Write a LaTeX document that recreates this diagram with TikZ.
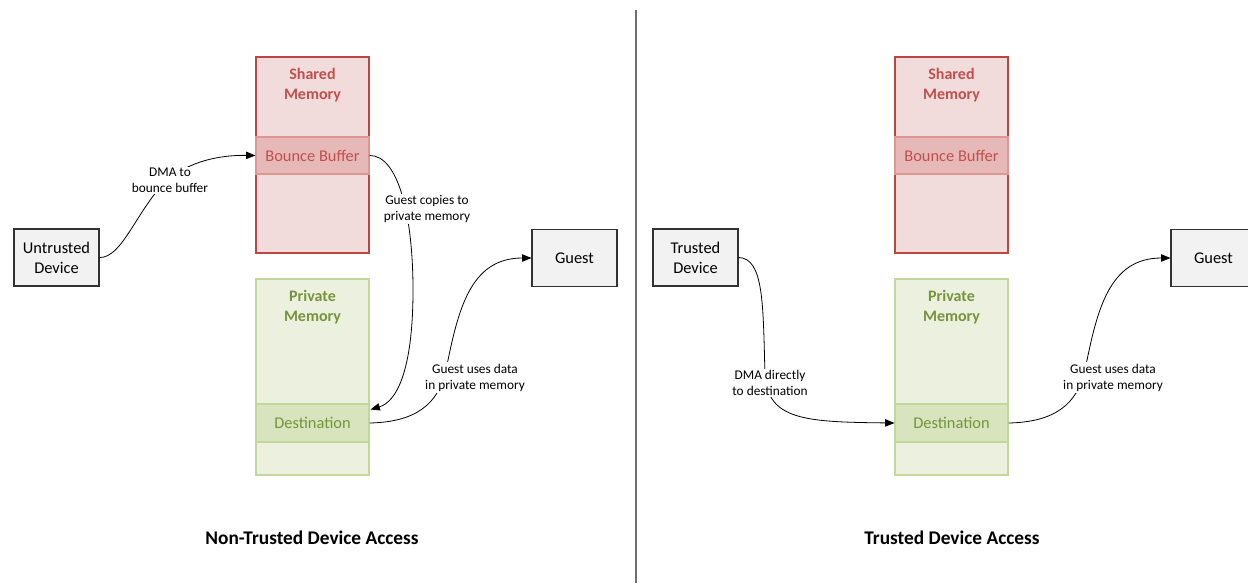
\documentclass[tikz,border=0pt]{standalone}
\usepackage{fontspec}
\setmainfont{Carlito}
\usetikzlibrary{arrows.meta,calc}

\definecolor{shFill}{RGB}{242,220,219}
\definecolor{shLine}{RGB}{185,72,68}
\definecolor{shBand}{RGB}{230,184,183}
\definecolor{shBandLine}{RGB}{222,150,148}
\definecolor{shText}{RGB}{192,80,77}
\definecolor{pvFill}{RGB}{235,241,222}
\definecolor{pvLine}{RGB}{195,214,155}
\definecolor{pvBand}{RGB}{215,228,189}
\definecolor{pvText}{RGB}{119,147,60}
\definecolor{devFill}{RGB}{242,242,242}
\definecolor{devLine}{RGB}{50,50,50}
\definecolor{divLine}{RGB}{110,110,110}

\tikzset{
  membox/.style={draw, line width=0.8pt, minimum width=84.75pt, minimum height=147pt, inner sep=0pt},
  shared/.style={membox, fill=shFill, draw=shLine},
  private/.style={membox, fill=pvFill, draw=pvLine},
  band/.style={minimum width=84.75pt, inner sep=0pt, line width=0.8pt, font=\fontsize{12.3}{14}\selectfont},
  sband/.style={band, minimum height=27.75pt, fill=shBand, draw=shBandLine, text=shText},
  pband/.style={band, minimum height=28.5pt, fill=pvBand, draw=pvLine, text=pvText},
  memtitle/.style={align=center, font=\bfseries\fontsize{12}{15}\selectfont},
  devbox/.style={draw=devLine, fill=devFill, line width=0.8pt, minimum width=63.75pt, minimum height=42.75pt,
    inner sep=0pt, align=center, font=\fontsize{12.3}{15}\selectfont},
  lbl/.style={fill=white, align=center, inner sep=1pt, font=\fontsize{10}{12}\selectfont},
  caption/.style={font=\bfseries\fontsize{14.5}{16}\selectfont},
  flow/.style={draw=black, line width=0.6pt, -{Triangle[length=7pt,width=5.5pt]}},
}

\begin{document}
\begin{tikzpicture}[x=0.75pt, y=-0.75pt]
\clip (0,0) rectangle (1248,583);
\fill[white] (0,0) rectangle (1248,583);

% separator between the two scenarios
\draw[divLine, line width=0.8pt] (636,10) -- (636,583);

% ---------- non-trusted device ----------
\node[shared]  (shL) at (312.5,155) {};
\node[sband]   (bbL) at (312.5,155.5) {Bounce Buffer};
\node[memtitle, text=shText] (shLt) at (312.5,85) {Shared\\Memory};
\node[private] (pvL) at (312.5,377) {};
\node[pband]   (dsL) at (312.5,423) {Destination};
\node[memtitle, text=pvText] (pvLt) at (312.5,307) {Private\\Memory};

\node[devbox] (dev) at (56.5,257.5) {Untrusted\\Device};
\node[devbox] (gL)  at (574.5,258) {Guest};

\draw[flow] (dev.east) .. controls (122,258) and (136,212) .. (165,182)
  .. controls (190,160) and (222,155) .. (bbL.west);
\draw[flow] (bbL.east) .. controls (398,155) and (413,215) .. (413,290)
  .. controls (413,372) and (396,402) .. ($(dsL.north east)+(1,6)$);
\draw[flow] (dsL.east) .. controls (415,422) and (438,405) .. (446,370)
  .. controls (458,310) and (470,258) .. (gL.west);

\node[lbl] (l1) at (170,180.5) {DMA to\\bounce buffer};
\node[lbl] (l2) at (427,209) {Guest copies to\\private memory};
\node[lbl] (l3) at (475,377.5) {Guest uses data\\in private memory};

\node[caption] (capL) at (312,538) {Non-Trusted Device Access};

% ---------- trusted device ----------
\node[shared]  (shR) at (951.5,155) {};
\node[sband]   (bbR) at (951.5,155.5) {Bounce Buffer};
\node[memtitle, text=shText] (shRt) at (951.5,85) {Shared\\Memory};
\node[private] (pvR) at (951.5,377) {};
\node[pband]   (dsR) at (951.5,423) {Destination};
\node[memtitle, text=pvText] (pvRt) at (951.5,307) {Private\\Memory};

\node[devbox] (tdev) at (695.5,257.5) {Trusted\\Device};
\node[devbox] (gR)   at (1213.5,258) {Guest};

\draw[flow] (tdev.east) .. controls (764,258) and (763,305) .. (765,375)
  .. controls (768,420) and (805,422) .. (dsR.west);
\draw[flow] (dsR.east) .. controls (1054,422) and (1077,405) .. (1085,370)
  .. controls (1097,310) and (1109,258) .. (gR.west);

\node[lbl] (l4) at (770,382.5) {DMA directly\\to destination};
\node[lbl] (l5) at (1113,377.5) {Guest uses data\\in private memory};

\node[caption] (capR) at (952,538) {Trusted Device Access};
\end{tikzpicture}
\end{document}
